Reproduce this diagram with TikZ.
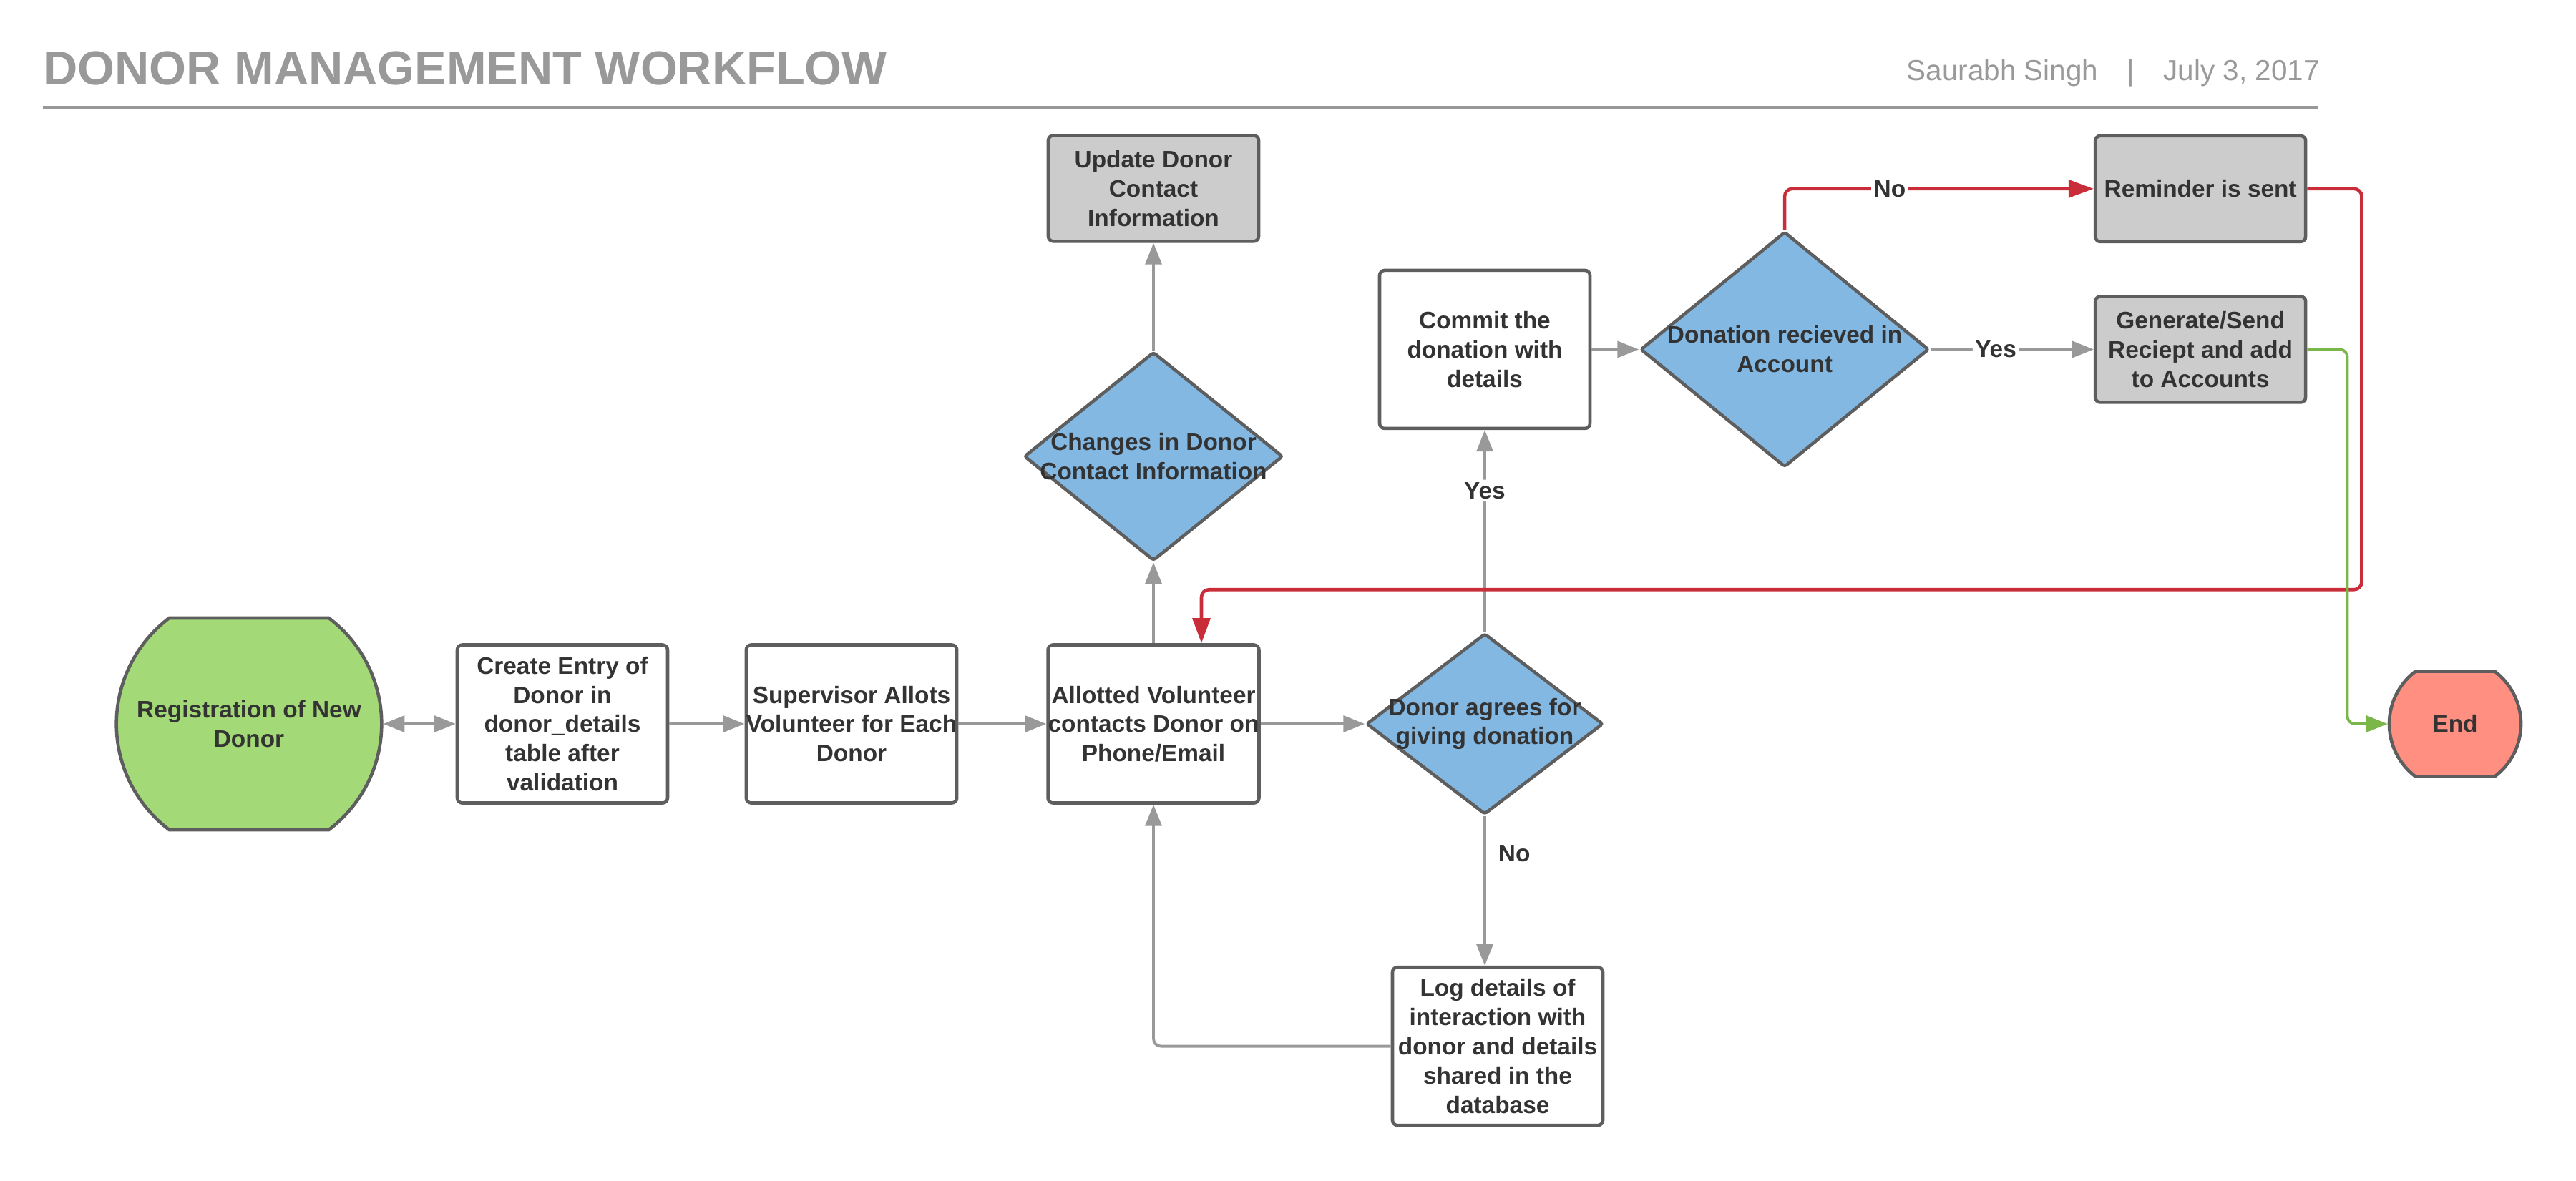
\documentclass[tikz,border=0pt]{standalone}
\usepackage{fontspec}
\setmainfont{Liberation Sans}
\usetikzlibrary{shapes, arrows.meta, positioning, calc}
\definecolor{txtgray}{HTML}{333333}
\definecolor{linegray}{HTML}{999999}
\definecolor{bordergray}{HTML}{5E5E5E}
\definecolor{boxgray}{HTML}{CCCCCC}
\definecolor{decblue}{HTML}{83B8E3}
\definecolor{startgreen}{HTML}{A3D977}
\definecolor{endred}{HTML}{FF8F80}
\definecolor{noRed}{HTML}{C92D39}
\definecolor{yesGreen}{HTML}{7AB648}
\definecolor{titlegray}{HTML}{999999}
\newcommand{\boxfont}{\bfseries\fontsize{9.5}{11.6}\selectfont}
\tikzset{block/.style={draw=bordergray, line width=1.3pt, rectangle, rounded corners=2pt, fill=white,
           minimum width=2.94cm, minimum height=2.21cm, inner sep=0pt, align=center, text=txtgray, font=\boxfont},
         greyblock/.style={block, fill=boxgray, minimum height=1.48cm},
         decision/.style={draw=bordergray, line width=1.3pt, diamond, fill=decblue, inner sep=0pt, rounded corners=1pt},
         terminal/.style={draw=bordergray, line width=1.3pt, rounded rectangle, rounded rectangle arc length=106,
           inner sep=0pt},
         dectext/.style={align=center, text=txtgray, font=\boxfont},
         flow/.style={draw=linegray, line width=1.1pt, rounded corners=3pt},
         noflow/.style={flow, draw=noRed, line width=1.3pt, -{Triangle[length=10pt,width=7pt]}, color=noRed},
         yesflow/.style={flow, draw=yesGreen, ->, color=yesGreen},
         lbl/.style={fill=white, inner sep=1pt, text=txtgray, font=\boxfont}}

\begin{document}
\begin{tikzpicture}[>={Triangle[length=8.5pt,width=6.5pt]}]
    \useasboundingbox (0,0) rectangle (36,-16.5);
    % header
    \node[anchor=base west, text=titlegray, font=\bfseries\fontsize{19}{23}\selectfont] (title) at (0.48,-1.18) {DONOR MANAGEMENT WORKFLOW};
    \node[anchor=base east, text=titlegray, font=\fontsize{11.5}{14}\selectfont] (author) at (32.54,-1.12) {Saurabh Singh\quad|\quad July 3, 2017};
    \draw[titlegray, line width=1.1pt] (0.60,-1.50) -- (32.40,-1.50);

    % main row
    \node[terminal, fill=startgreen, minimum height=2.96cm,
          label={[dectext]center:{Registration of New\\Donor}}] (reg) at (3.48,-10.12) {};
    \node[block] (create) at (7.86,-10.12) {Create Entry of\\Donor in\\donor\_details\\table after\\validation};
    \node[block] (superv) at (11.90,-10.12) {Supervisor Allots\\Volunteer for Each\\Donor};
    \node[block] (allot) at (16.12,-10.12) {Allotted Volunteer\\contacts Donor on\\Phone/Email};
    \node[decision, minimum width=3.31cm, minimum height=2.53cm,
          label={[dectext]center:{Donor agrees for\\giving donation}}] (agree) at (20.75,-10.12) {};
    \node[block, below=2.09cm of agree, xshift=0.18cm] (log) {Log details of\\interaction with\\donor and details\\shared in the\\database};

    % upper part
    \node[decision, minimum width=3.62cm, minimum height=2.92cm, above=1.13cm of allot,
          label={[dectext]center:{Changes in Donor\\Contact Information}}] (change) {};
    \node[greyblock, above=1.50cm of change] (update) {Update Donor\\Contact\\Information};
    \node[block, above=2.82cm of agree] (commit) {Commit the\\donation with\\details};
    \node[decision, minimum width=4.03cm, minimum height=3.29cm, right=0.66cm of commit,
          label={[dectext]center:{Donation recieved in\\Account}}] (recv) {};
    \node[greyblock, right=2.28cm of recv] (gen) {Generate/Send\\Reciept and add\\to Accounts};
    \node[greyblock, above=0.72cm of gen] (remind) {Reminder is sent};
    \node[terminal, fill=endred, minimum height=1.47cm,
          label={[dectext]center:End}] (endn) at (34.31,-10.12) {};

    % connectors
    \draw[flow, <->] (reg) -- (create);
    \draw[flow, ->] (create) -- (superv);
    \draw[flow, ->] (superv) -- (allot);
    \draw[flow, ->] (allot) -- (agree);
    \draw[flow, ->] (allot) -- (change);
    \draw[flow, ->] (change) -- (update);
    \draw[flow, ->] (agree.north) -- node[lbl, pos=0.7] {Yes} (commit.south);
    \draw[flow, ->] (agree.south) -- node[pos=0.25, right, xshift=1.5pt, text=txtgray, font=\boxfont] {No} (agree.south |- log.north);
    \draw[flow, ->] (log.west) -| (allot.south);
    \draw[flow, ->] (commit) -- (recv);
    \draw[flow, ->] (recv) -- node[lbl, pos=0.4] {Yes} (gen);
    \draw[noflow] (recv.north) |- node[lbl, pos=0.67] {No} (remind.west);
    \draw[noflow] (remind.east) -- ++(0.76,0) |- ([xshift=0.67cm, yshift=0.75cm]allot.north) -- ([xshift=0.67cm]allot.north);
    \draw[yesflow] (gen.east) -- ++(0.56,0) |- (endn.west);
\end{tikzpicture}
\end{document}
